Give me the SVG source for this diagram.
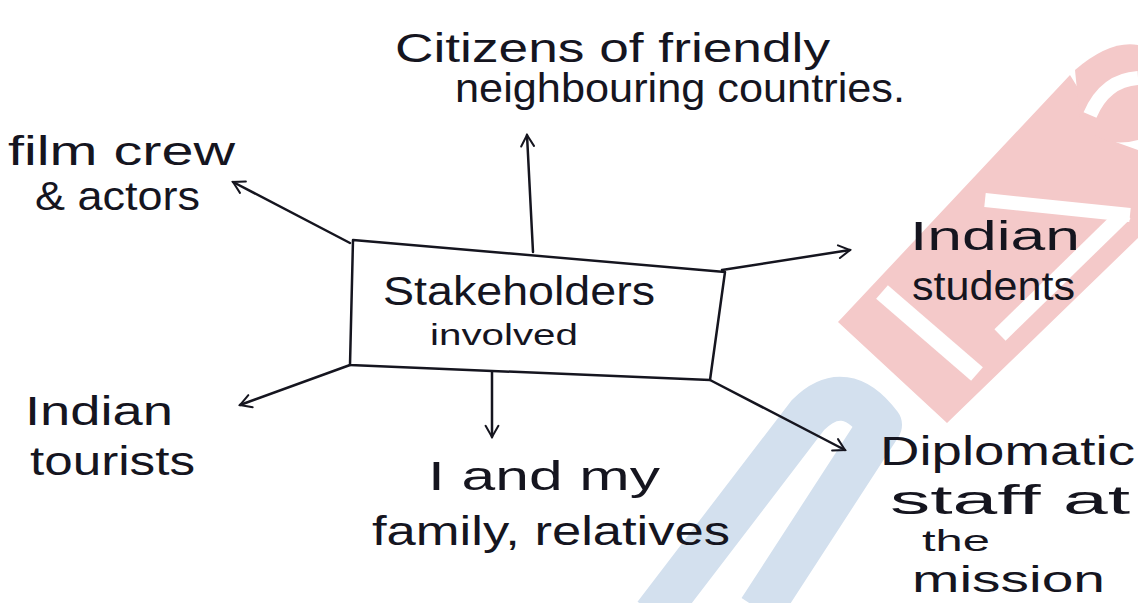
<svg xmlns="http://www.w3.org/2000/svg" width="1138" height="603" viewBox="0 0 1138 603">
<defs>
<style>
.lbl{font-family:"Liberation Sans",Arial,sans-serif;font-size:40px;fill:#15151f;}
.sm{font-size:30px;}
.ln{stroke:#15151f;stroke-width:2.5;fill:none;stroke-linecap:round;stroke-linejoin:round;}
.red{fill:#f4c9c9;}
.gap{stroke:#ffffff;stroke-linecap:butt;fill:none;}
.blu{stroke:#d3e0ee;fill:none;stroke-linecap:butt;stroke-linejoin:round;}
</style>
<marker id="ah" viewBox="0 0 20 20" refX="18" refY="10" markerWidth="16" markerHeight="16" markerUnits="userSpaceOnUse" orient="auto">
<path d="M4,2 L18,10 L4,18" fill="none" stroke="#15151f" stroke-width="2.5" stroke-linecap="round"/>
</marker>
</defs>
<rect width="1138" height="603" fill="#ffffff"/>
<g id="watermark">
<polygon class="red" points="838,322 947,423 1138,238 1138,150 1110,140 1070,75"/>
<path class="red" d="M1075,70 Q1110,40 1138,45 L1138,140 Q1100,150 1080,120 Z"/>
<line class="gap" x1="882" y1="292" x2="977" y2="374" stroke-width="18"/>
<line class="gap" x1="1000" y1="335" x2="1125" y2="213" stroke-width="16"/>
<line class="gap" x1="985" y1="200" x2="1130" y2="215" stroke-width="14"/>
<path class="gap" d="M1090,115 Q1105,80 1138,78" stroke-width="14"/>
<path class="blu" d="M655,615 L808,415 Q845,378 880,425 L760,610" stroke-width="44"/>
</g>
<g id="connectors">
<line class="ln" x1="533" y1="252" x2="527" y2="135" marker-end="url(#ah)"/>
<line class="ln" x1="350" y1="243" x2="233" y2="182" marker-end="url(#ah)"/>
<line class="ln" x1="722" y1="270" x2="850" y2="250" marker-end="url(#ah)"/>
<line class="ln" x1="350" y1="365" x2="240" y2="405" marker-end="url(#ah)"/>
<line class="ln" x1="492" y1="372" x2="492" y2="437" marker-end="url(#ah)"/>
<line class="ln" x1="710" y1="380" x2="845" y2="450" marker-end="url(#ah)"/>
</g>
<g id="center">
<polygon class="ln" points="353,240 725,272 710,380 350,365"/>
<text class="lbl" x="383" y="305" textLength="272" lengthAdjust="spacingAndGlyphs">Stakeholders</text>
<text class="lbl sm" x="430" y="345" textLength="148" lengthAdjust="spacingAndGlyphs">involved</text>
</g>
<g id="citizens">
<text class="lbl" x="395" y="62" textLength="435" lengthAdjust="spacingAndGlyphs">Citizens of friendly</text>
<text class="lbl" x="455" y="102" textLength="450" lengthAdjust="spacingAndGlyphs">neighbouring countries.</text>
</g>
<g id="film">
<text class="lbl" x="8" y="165" textLength="227" lengthAdjust="spacingAndGlyphs">film crew</text>
<text class="lbl" x="35" y="210" textLength="165" lengthAdjust="spacingAndGlyphs">&amp; actors</text>
</g>
<g id="students">
<text class="lbl" x="910" y="250" textLength="170" lengthAdjust="spacingAndGlyphs">Indian</text>
<text class="lbl" x="912" y="300" textLength="163" lengthAdjust="spacingAndGlyphs">students</text>
</g>
<g id="tourists">
<text class="lbl" x="25" y="425" textLength="148" lengthAdjust="spacingAndGlyphs">Indian</text>
<text class="lbl" x="30" y="475" textLength="165" lengthAdjust="spacingAndGlyphs">tourists</text>
</g>
<g id="family">
<text class="lbl" x="428" y="490" textLength="232" lengthAdjust="spacingAndGlyphs">I and my</text>
<text class="lbl" x="372" y="545" textLength="358" lengthAdjust="spacingAndGlyphs">family, relatives</text>
</g>
<g id="diplomatic">
<text class="lbl" x="880" y="465" textLength="255" lengthAdjust="spacingAndGlyphs">Diplomatic</text>
<text class="lbl" x="890" y="514" textLength="240" lengthAdjust="spacingAndGlyphs">staff at</text>
<text class="lbl" x="922" y="551" style="font-size:30px" textLength="68" lengthAdjust="spacingAndGlyphs">the</text>
<text class="lbl" x="912" y="592" style="font-size:36px" textLength="193" lengthAdjust="spacingAndGlyphs">mission</text>
</g>
</svg>
